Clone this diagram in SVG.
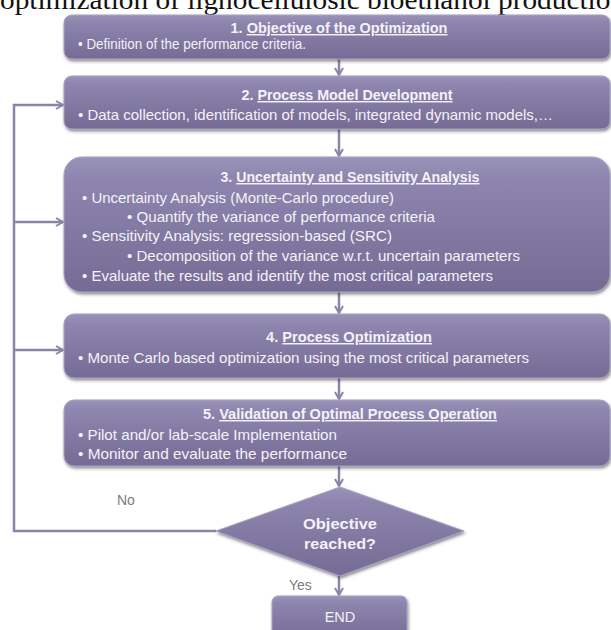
<svg xmlns="http://www.w3.org/2000/svg" width="611" height="630" viewBox="0 0 611 630">
<defs>
<linearGradient id="g" x1="0" y1="0" x2="0" y2="1">
<stop offset="0" stop-color="#9a93b9"/>
<stop offset="0.15" stop-color="#8e86ae"/>
<stop offset="1" stop-color="#756b95"/>
</linearGradient>
<filter id="sh" x="-5%" y="-10%" width="110%" height="130%">
<feDropShadow dx="1" dy="2" stdDeviation="1.5" flood-color="#333" flood-opacity="0.55"/>
</filter>
<marker id="ah" viewBox="0 0 10 10" refX="8" refY="5" markerWidth="4" markerHeight="4" orient="auto" markerUnits="strokeWidth">
<path d="M1,1 L8,5 L1,9" fill="none" stroke="#8a84a8" stroke-width="2"/>
</marker>
<style>
.box{fill:url(#g);stroke:#a7a1c4;stroke-width:1;filter:url(#sh);}
.t{font-family:"Liberation Sans",Arial,sans-serif;fill:#f4f2f8;font-size:14.5px;}
.b{font-weight:bold;}
.u{text-decoration:underline;}
.c{stroke:#8a84a8;stroke-width:2.5;fill:none;}
.lab{font-family:"Liberation Sans",Arial,sans-serif;fill:#7b7b7b;font-size:14px;}
</style>
</defs>
<rect width="611" height="630" fill="#ffffff"/>
<text x="0" y="9" font-family="Liberation Serif,'Times New Roman',serif" font-size="28" fill="#111" textLength="625" lengthAdjust="spacingAndGlyphs">optimization of lignocellulosic bioethanol production</text>

<g id="connectors">
<line class="c" x1="339" y1="59" x2="339" y2="75" marker-end="url(#ah)"/>
<line class="c" x1="339" y1="129" x2="339" y2="156" marker-end="url(#ah)"/>
<line class="c" x1="339" y1="292" x2="339" y2="313" marker-end="url(#ah)"/>
<line class="c" x1="339" y1="378" x2="339" y2="399" marker-end="url(#ah)"/>
<line class="c" x1="339" y1="466" x2="339" y2="486" marker-end="url(#ah)"/>
<line class="c" x1="339" y1="576" x2="339" y2="595" marker-end="url(#ah)"/>
<polyline class="c" points="216,531 14,531 14,105 63,105" marker-end="url(#ah)"/>
<line class="c" x1="14" y1="222" x2="63" y2="222" marker-end="url(#ah)"/>
<line class="c" x1="14" y1="350" x2="63" y2="350" marker-end="url(#ah)"/>
<text class="lab" x="117" y="505">No</text>
<text class="lab" x="289" y="590">Yes</text>
</g>

<g id="n1">
<rect class="box" x="64" y="15" width="546" height="44" rx="8"/>
<text class="t b" x="339" y="33" text-anchor="middle" textLength="217" lengthAdjust="spacingAndGlyphs">1. <tspan class="u">Objective of the Optimization</tspan></text>
<text class="t" x="78" y="48.5" textLength="228" lengthAdjust="spacingAndGlyphs">• Definition of the performance criteria.</text>
</g>

<g id="n2">
<rect class="box" x="64" y="76" width="546" height="53" rx="8"/>
<text class="t b" x="347" y="100" text-anchor="middle" textLength="211" lengthAdjust="spacingAndGlyphs">2. <tspan class="u">Process Model Development</tspan></text>
<text class="t" x="78" y="119.5" textLength="475" lengthAdjust="spacingAndGlyphs">• Data collection, identification of models, integrated dynamic models,…</text>
</g>

<g id="n3">
<rect class="box" x="64" y="157" width="546" height="135" rx="18"/>
<text class="t b" x="350" y="182" text-anchor="middle" textLength="259" lengthAdjust="spacingAndGlyphs">3. <tspan class="u">Uncertainty and Sensitivity Analysis</tspan></text>
<text class="t" x="82" y="202.5" textLength="312" lengthAdjust="spacingAndGlyphs">• Uncertainty Analysis (Monte-Carlo procedure)</text>
<text class="t" x="127" y="221.5" textLength="308" lengthAdjust="spacingAndGlyphs">• Quantify the variance of performance criteria</text>
<text class="t" x="82" y="240.5" textLength="310" lengthAdjust="spacingAndGlyphs">• Sensitivity Analysis: regression-based (SRC)</text>
<text class="t" x="127" y="260.5" textLength="393" lengthAdjust="spacingAndGlyphs">• Decomposition of the variance w.r.t. uncertain parameters</text>
<text class="t" x="82" y="280.5" textLength="411" lengthAdjust="spacingAndGlyphs">• Evaluate the results and identify the most critical parameters</text>
</g>

<g id="n4">
<rect class="box" x="64" y="314" width="546" height="64" rx="10"/>
<text class="t b" x="349" y="342" text-anchor="middle" textLength="166" lengthAdjust="spacingAndGlyphs">4.  <tspan class="u">Process Optimization</tspan></text>
<text class="t" x="78" y="362.5" textLength="451" lengthAdjust="spacingAndGlyphs">• Monte Carlo based optimization using the most critical parameters</text>
</g>

<g id="n5">
<rect class="box" x="64" y="400" width="546" height="66" rx="10"/>
<text class="t b" x="350" y="419" text-anchor="middle" textLength="294" lengthAdjust="spacingAndGlyphs">5.  <tspan class="u">Validation of Optimal Process Operation</tspan></text>
<text class="t" x="78" y="439.5" textLength="259" lengthAdjust="spacingAndGlyphs">• Pilot and/or lab-scale Implementation</text>
<text class="t" x="78" y="458.5" textLength="269" lengthAdjust="spacingAndGlyphs">• Monitor and  evaluate the performance</text>
</g>

<g id="decision">
<polygon class="box" points="340,487 464,531 340,576 216,531"/>
<text class="t b" x="340" y="529" text-anchor="middle" font-size="15.5" textLength="74" lengthAdjust="spacingAndGlyphs">Objective</text>
<text class="t b" x="340" y="549" text-anchor="middle" font-size="15.5" textLength="72" lengthAdjust="spacingAndGlyphs">reached?</text>
</g>

<g id="end">
<rect class="box" x="272" y="596" width="135" height="44" rx="6"/>
<text class="t" x="340" y="622" text-anchor="middle">END</text>
</g>
</svg>
